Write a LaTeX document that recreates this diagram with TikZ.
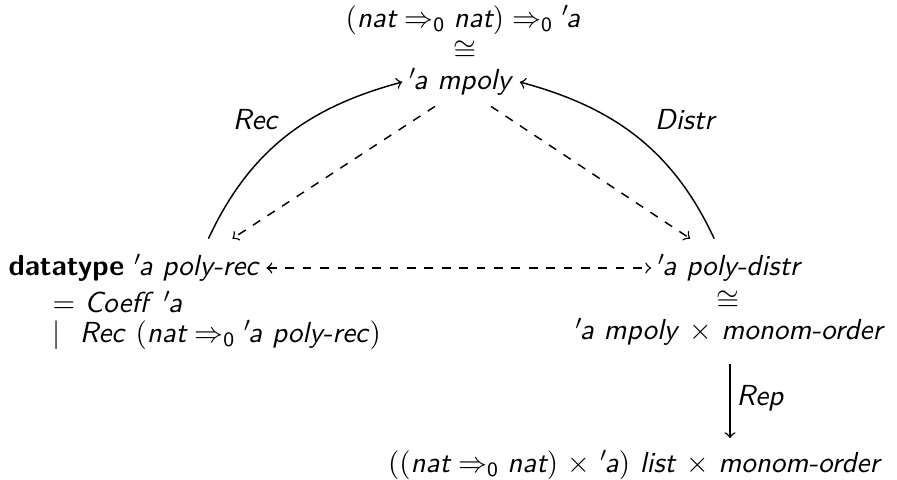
\documentclass[tikz,border=0pt]{standalone}
\usepackage{amsmath}
\usepackage{tikz}
\newcommand{\isa}[1]{\textit{#1}}
\newcommand{\tva}{$'$\kern-1.2pt\isa{a}}
\newcommand{\fto}{\Rightarrow_{\textsf{0}}}

\begin{document}
\sffamily
\begin{tikzpicture}[x=0.345pt, y=-0.345pt, inner sep=2pt, line width=0.5pt]
    \useasboundingbox (0,0) rectangle (897,479);
    \node (fun) at (463,20) {$(\isa{nat} \fto \isa{nat}) \fto {}$\tva};
    \node[inner sep=0pt] (iso1) at (465,51) {$\cong$};
    \node (mpoly) at (461,82) {\tva\ \isa{mpoly}};
    \node[anchor=west] (rec) at (2,268) {\textbf{datatype} \tva\ \isa{poly-rec}};
    \node[anchor=west] (coeff) at (46,302) {$=$ \isa{Coeff} \tva};
    \node[anchor=west] (cons) at (46,335) {$\mid$ \ \isa{Rec} $(\isa{nat} \fto {}$\tva\ \isa{poly-rec}$)$};
    \node (distr) at (730,268) {\tva\ \isa{poly-distr}};
    \node[inner sep=0pt] (iso2) at (728,301) {$\cong$};
    \node (pair) at (730,332) {\tva\ \isa{mpoly} $\times$ \isa{monom-order}};
    \node (list) at (635,465) {$((\isa{nat} \fto \isa{nat})$ $\times$ \tva$)$ \isa{list} $\times$ \isa{monom-order}};
    \draw[->] ([shift={(-58,-9)}]rec.north east) to[out=65, in=195]
        node[above left] {\isa{Rec}} (mpoly.west);
    \draw[->] ([shift={(63,-9)}]distr.north west) to[out=115, in=-15]
        node[above right, xshift=4pt] {\isa{Distr}} (mpoly.east);
    \draw[->, dashed] ([shift={(-26,4)}]mpoly.south) -- ([shift={(-34,-9)}]rec.north east);
    \draw[->, dashed] ([shift={(30,4)}]mpoly.south) -- ([shift={(39,-9)}]distr.north west);
    \draw[<->, dashed] (rec.east) -- (distr.west);
    \draw[->, shorten <=4pt, shorten >=2pt] (pair.south) -- (pair.south |- list.north)
        node[midway, right] {\isa{Rep}};
\end{tikzpicture}
\end{document}
